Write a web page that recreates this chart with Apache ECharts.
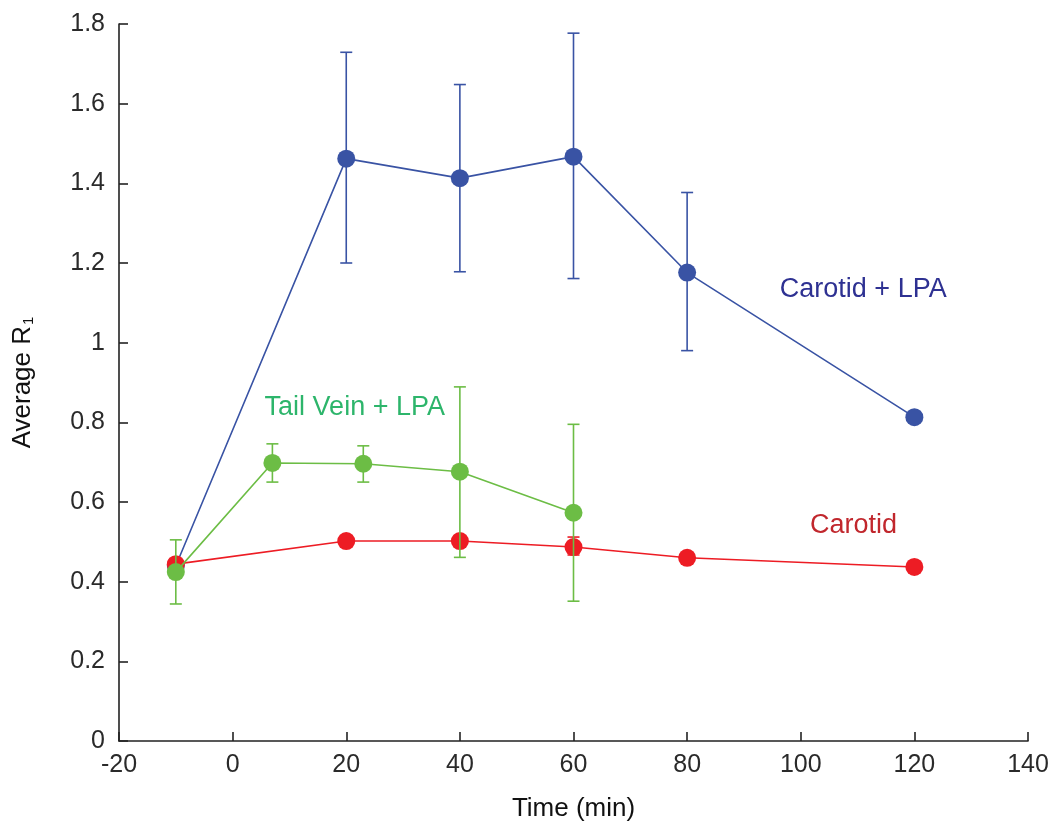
<!DOCTYPE html>
<html><head><meta charset="utf-8">
<script src="https://cdn.jsdelivr.net/npm/echarts@6/dist/echarts.min.js"></script>
<style>html,body{margin:0;padding:0;background:#fff}#c{width:1056px;height:829px}</style>
</head><body><div id="c"></div>
<script>
// Carotid + LPA
const blueX = [-10, 20, 40, 60, 80, 120];
const blueY = [0.44, 1.462, 1.413, 1.467, 1.176, 0.813];
const blueLo = [null, 1.2, 1.178, 1.161, 0.98, null];
const blueHi = [null, 1.729, 1.648, 1.777, 1.377, null];
// Tail Vein + LPA
const greenX = [-10, 7, 23, 40, 60];
const greenY = [0.424, 0.698, 0.696, 0.676, 0.573];
const greenLo = [0.344, 0.65, 0.65, 0.461, 0.351];
const greenHi = [0.505, 0.746, 0.741, 0.889, 0.795];
// Carotid
const redX = [-10, 20, 40, 60, 80, 120];
const redY = [0.444, 0.502, 0.502, 0.487, 0.46, 0.437];
const redLo = [null, null, null, 0.467, null, null];
const redHi = [null, null, null, 0.512, null, null];

const xTicks = [-20, 0, 20, 40, 60, 80, 100, 120, 140];
const yTicks = [0, 0.2, 0.4, 0.6, 0.8, 1, 1.2, 1.4, 1.6, 1.8];

const FONT = '"Liberation Sans", Arial, Helvetica, sans-serif';
const C_BLUE = '#3953a4', C_GREEN = '#6cbd45', C_RED = '#ed1c24';

function pts(xs, ys) { return xs.map((x, i) => [x, ys[i]]); }
function errs(xs, lo, hi) {
  const out = [];
  xs.forEach((x, i) => { if (lo[i] != null) out.push([x, lo[i], hi[i]]); });
  return out;
}
function errSeries(data, color, z) {
  return {
    type: 'custom', z: z, silent: true,
    data: data,
    encode: { x: 0, y: [1, 2] },
    renderItem: function (params, api) {
      const x = api.value(0);
      const lo = api.coord([x, api.value(1)]);
      const hi = api.coord([x, api.value(2)]);
      const w = 6;
      const st = { stroke: color, lineWidth: 1.6, fill: null };
      return { type: 'group', children: [
        { type: 'line', shape: { x1: lo[0], y1: lo[1], x2: hi[0], y2: hi[1] }, style: st },
        { type: 'line', shape: { x1: lo[0] - w, y1: lo[1], x2: lo[0] + w, y2: lo[1] }, style: st },
        { type: 'line', shape: { x1: hi[0] - w, y1: hi[1], x2: hi[0] + w, y2: hi[1] }, style: st }
      ]};
    }
  };
}
function lineSeries(name, data, color, z, label) {
  return {
    name: name, type: 'line', z: z, data: data,
    symbol: 'circle', symbolSize: 18,
    lineStyle: { color: color, width: 1.6 },
    itemStyle: { color: color },
    animation: false,
    markPoint: {
      symbol: 'circle', symbolSize: 0, silent: true,
      label: { show: true, position: 'inside', formatter: label.text, color: label.color,
               fontFamily: FONT, fontSize: 27 },
      data: [{ coord: label.coord }]
    }
  };
}

const chart = echarts.init(document.getElementById('c'));
chart.setOption({
  animation: false,
  backgroundColor: '#fff',
  grid: { left: 119, right: 28, top: 24, bottom: 88 },
  xAxis: {
    type: 'value', min: -20, max: 140, interval: 20,
    name: 'Time (min)', nameLocation: 'middle', nameGap: 55,
    nameTextStyle: { fontFamily: FONT, fontSize: 26, color: '#111' },
    axisLine: { show: true, onZero: false, lineStyle: { color: '#222', width: 1.6 } },
    axisTick: { show: true, inside: true, length: 9, lineStyle: { color: '#222', width: 1.6 } },
    axisLabel: { fontFamily: FONT, fontSize: 25, color: '#2a2a2a', margin: 12,
                 formatter: v => xTicks.includes(v) ? String(v) : '' },
    splitLine: { show: false }
  },
  yAxis: {
    type: 'value', min: 0, max: 1.8, interval: 0.2,
    name: 'Average R{sub|1}', nameLocation: 'middle', nameGap: 83, nameRotate: 90,
    nameTextStyle: { fontFamily: FONT, fontSize: 26, color: '#111',
      rich: { sub: { fontFamily: FONT, fontSize: 15, color: '#111', verticalAlign: 'bottom', padding: [10, 0, 0, 1] } } },
    axisLine: { show: true, onZero: false, lineStyle: { color: '#222', width: 1.6 } },
    axisTick: { show: true, inside: true, length: 9, lineStyle: { color: '#222', width: 1.6 } },
    axisLabel: { fontFamily: FONT, fontSize: 25, color: '#2a2a2a', margin: 14,
                 formatter: v => { const t = yTicks.find(k => Math.abs(k - v) < 1e-9); return t == null ? '' : String(t); } },
    splitLine: { show: false }
  },
  series: [
    errSeries(errs(blueX, blueLo, blueHi), C_BLUE, 1),
    lineSeries('Carotid + LPA', pts(blueX, blueY), C_BLUE, 2,
      { text: 'Carotid + LPA', color: '#2e3192', coord: [111, 1.133] }),
    errSeries(errs(redX, redLo, redHi), C_RED, 3),
    lineSeries('Carotid', pts(redX, redY), C_RED, 4,
      { text: 'Carotid', color: '#c1272d', coord: [109.3, 0.54] }),
    errSeries(errs(greenX, greenLo, greenHi), C_GREEN, 5),
    lineSeries('Tail Vein + LPA', pts(greenX, greenY), C_GREEN, 6,
      { text: 'Tail Vein + LPA', color: '#2db56b', coord: [21.5, 0.836] })
  ]
});
</script>
</body></html>
